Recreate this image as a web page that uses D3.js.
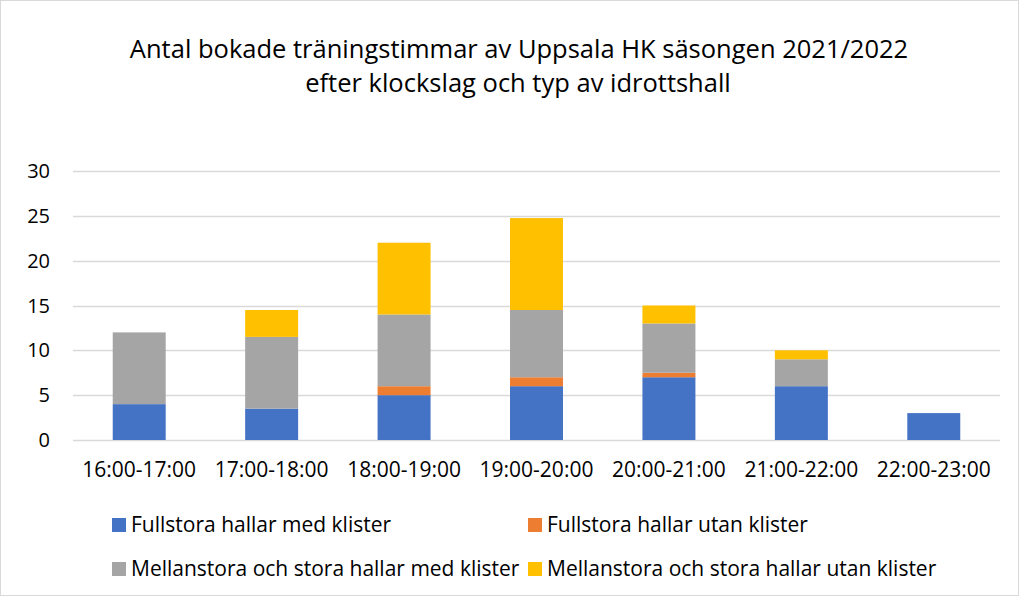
<!DOCTYPE html>
<html>
<head>
<meta charset="utf-8">
<script src="https://cdn.jsdelivr.net/npm/d3@7"></script>
<style>
  body { margin: 0; background: #fff; }
  text { font-family: "Open Sans", Calibri, sans-serif; fill: #000; }
</style>
</head>
<body>
<div id="chart"></div>
<script>
const categories = ["16:00-17:00", "17:00-18:00", "18:00-19:00", "19:00-20:00", "20:00-21:00", "21:00-22:00", "22:00-23:00"];
const seriesNames = [
    "Fullstora hallar med klister",
    "Fullstora hallar utan klister",
    "Mellanstora och stora hallar med klister",
    "Mellanstora och stora hallar utan klister"
];
const fullMed = [4, 3.5, 5, 6, 7, 6, 3];
const fullUtan = [0, 0, 1, 1, 0.5, 0, 0];
const mellanMed = [8, 8, 8, 7.5, 5.5, 3, 0];
const mellanUtan = [0, 3, 8, 10.25, 2, 1, 0];
const yTicks = [0, 5, 10, 15, 20, 25, 30];
const colors = ["#4472c4", "#ed7d31", "#a5a5a5", "#ffc000"];

const width = 1019, height = 596;
const margin = { top: 171, right: 19, bottom: 156, left: 73 };

// rows for the stack layout
const keys = ["a", "b", "c", "d"];
const rows = categories.map((c, i) => ({
    cat: c, a: fullMed[i], b: fullUtan[i], c: mellanMed[i], d: mellanUtan[i]
}));
const stacked = d3.stack().keys(keys)(rows);

const svg = d3.select("#chart").append("svg")
    .attr("width", width)
    .attr("height", height);

// chart area border
svg.append("rect")
    .attr("x", 0.5).attr("y", 0.5)
    .attr("width", width - 1).attr("height", height - 1)
    .attr("fill", "#fff")
    .attr("stroke", "#d9d9d9");

const x = d3.scaleBand()
    .domain(categories)
    .range([margin.left, width - margin.right])
    .paddingInner(0.6)
    .paddingOuter(0.3);

const y = d3.scaleLinear()
    .domain([0, 30])
    .range([height - margin.bottom, margin.top]);

// Title
const title = svg.append("text")
    .attr("text-anchor", "middle")
    .style("font-size", "25.5px");
title.append("tspan").attr("x", 519).attr("y", 58)
    .text("Antal bokade träningstimmar av Uppsala HK säsongen 2021/2022");
title.append("tspan").attr("x", 518).attr("y", 92)
    .text("efter klockslag och typ av idrottshall");

// Gridlines
svg.append("g")
    .selectAll("line")
    .data(yTicks)
    .join("line")
    .attr("x1", margin.left)
    .attr("x2", width - margin.right)
    .attr("y1", d => Math.round(y(d)) + 0.5)
    .attr("y2", d => Math.round(y(d)) + 0.5)
    .attr("stroke", "#d9d9d9")
    .attr("stroke-width", 1.3);

// Y axis labels
svg.append("g")
    .selectAll("text")
    .data(yTicks)
    .join("text")
    .attr("x", 50)
    .attr("y", d => y(d) + 7)
    .attr("text-anchor", "end")
    .style("font-size", "20px")
    .text(d => d);

// Bars
svg.append("g")
    .selectAll("g")
    .data(stacked)
    .join("g")
    .attr("fill", (d, i) => colors[i])
    .selectAll("rect")
    .data(d => d)
    .join("rect")
    .attr("x", d => x(d.data.cat))
    .attr("y", d => y(d[1]))
    .attr("width", x.bandwidth())
    .attr("height", d => y(d[0]) - y(d[1]));

// X axis labels
svg.append("g")
    .selectAll("text")
    .data(categories)
    .join("text")
    .attr("x", d => x(d) + x.bandwidth() / 2)
    .attr("y", 477)
    .attr("text-anchor", "middle")
    .style("font-size", "21px")
    .text(d => d);

// Legend
const legendPos = [[112, 532], [528, 532], [112, 576], [528, 576]];
const legend = svg.append("g")
    .selectAll("g")
    .data(seriesNames)
    .join("g")
    .attr("transform", (d, i) => `translate(${legendPos[i][0]},${legendPos[i][1]})`);
legend.append("rect")
    .attr("x", 0).attr("y", -14)
    .attr("width", 14).attr("height", 14)
    .attr("fill", (d, i) => colors[i]);
legend.append("text")
    .attr("x", 19)
    .style("font-size", "21px")
    .text(d => d);
</script>
</body>
</html>
